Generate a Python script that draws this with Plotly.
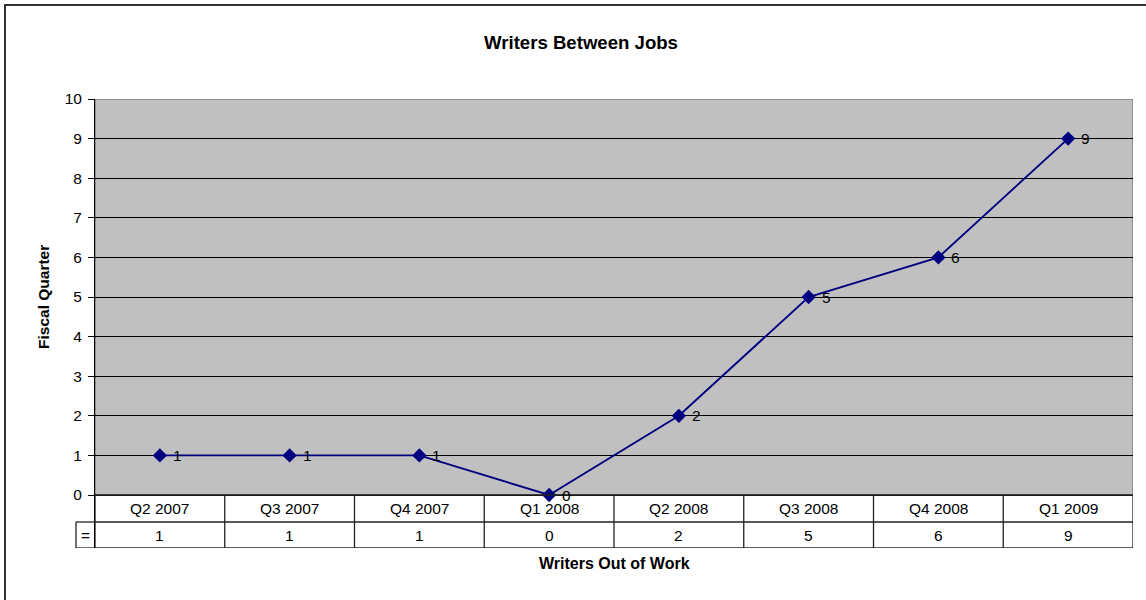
import plotly.graph_objects as go

# ---- data ----
quarters = ["Q2 2007", "Q3 2007", "Q4 2007", "Q1 2008", "Q2 2008", "Q3 2008", "Q4 2008", "Q1 2009"]
writers_out = [1, 1, 1, 0, 2, 5, 6, 9]
y_ticks = list(range(0, 11))
legend_key = "="

# ---- geometry / style ----
W, H = 1146, 600
ML, MR, MT, MB = 95, 13, 99, 52
plot_w = W - ML - MR
plot_h = H - MT - MB
Y_MAX = 10
px_per_unit = plot_h / (Y_MAX + 53 / 39.6)
row1 = 27 / px_per_unit        # category row height (data units)
row2 = 26 / px_per_unit        # value row height
Y_MIN = -(row1 + row2)
n = len(quarters)
x_lo, x_hi = -0.5, n - 0.5
key_w = 19 / plot_w            # legend key column width (paper units)

FONT = "Arial, 'Liberation Sans', sans-serif"
FS = 15.5
NAVY = "#000080"
GRAY = "#C0C0C0"
BORDER = "#222222"

def px_to_paper_x(px):
    return (px - ML) / plot_w

def px_to_paper_y(py):
    return (H - MB - py) / plot_h

fig = go.Figure()

fig.add_trace(go.Scatter(
    x=list(range(n)), y=writers_out,
    mode="lines+markers",
    line=dict(color=NAVY, width=1.9),
    marker=dict(symbol="diamond", size=11, color=NAVY),
    cliponaxis=False,
    hoverinfo="skip",
    showlegend=False,
))

shapes = []
# gray plot area
shapes.append(dict(type="rect", xref="x", yref="y", x0=x_lo, x1=x_hi, y0=0, y1=Y_MAX,
                   fillcolor=GRAY, line=dict(color="#808080", width=1.5), layer="below"))
# table horizontal lines
for yv in [0, -row1, Y_MIN]:
    shapes.append(dict(type="line", xref="x", yref="y", x0=x_lo, x1=x_hi, y0=yv, y1=yv,
                       line=dict(color=BORDER, width=1.3), layer="above"))
# table vertical lines
for i in range(n + 1):
    xv = x_lo + i
    shapes.append(dict(type="line", xref="x", yref="y", x0=xv, x1=xv, y0=0, y1=Y_MIN,
                       line=dict(color=BORDER, width=1.3), layer="above"))
# legend key cell (left of table)
for yv in [-row1, Y_MIN]:
    shapes.append(dict(type="line", xref="paper", yref="y", x0=-key_w, x1=0, y0=yv, y1=yv,
                       line=dict(color=BORDER, width=1.3)))
shapes.append(dict(type="line", xref="paper", yref="y", x0=-key_w, x1=-key_w, y0=-row1, y1=Y_MIN,
                   line=dict(color=BORDER, width=1.3)))
# outer chart border
shapes.append(dict(type="rect", xref="paper", yref="paper",
                   x0=px_to_paper_x(5), x1=px_to_paper_x(1160),
                   y0=px_to_paper_y(610), y1=px_to_paper_y(5),
                   line=dict(color="#333333", width=2), fillcolor="rgba(0,0,0,0)"))

annotations = []
# data labels
for i, v in enumerate(writers_out):
    annotations.append(dict(x=i, y=v, xref="x", yref="y", text=str(v), showarrow=False,
                            xanchor="left", yanchor="middle", xshift=11,
                            font=dict(family=FONT, size=FS, color="#000")))
# data table cells
for i, (q, v) in enumerate(zip(quarters, writers_out)):
    annotations.append(dict(x=i, y=-row1 / 2, xref="x", yref="y", text=q, showarrow=False,
                            xanchor="center", yanchor="middle",
                            font=dict(family=FONT, size=FS, color="#000")))
    annotations.append(dict(x=i, y=-row1 - row2 / 2, xref="x", yref="y", text=str(v), showarrow=False,
                            xanchor="center", yanchor="middle",
                            font=dict(family=FONT, size=FS, color="#000")))
annotations.append(dict(x=-key_w / 2, y=-row1 - row2 / 2, xref="paper", yref="y", text=legend_key,
                        showarrow=False, xanchor="center", yanchor="middle",
                        font=dict(family=FONT, size=FS, color="#000")))
# axis titles
annotations.append(dict(x=px_to_paper_x(43), y=Y_MAX / 2, xref="paper", yref="y",
                        text="<b>Fiscal Quarter</b>", textangle=-90, showarrow=False,
                        xanchor="center", yanchor="middle",
                        font=dict(family=FONT, size=FS, color="#000")))
annotations.append(dict(x=0.5, y=px_to_paper_y(563), xref="paper", yref="paper",
                        text="<b>Writers Out of Work</b>", showarrow=False,
                        xanchor="center", yanchor="middle",
                        font=dict(family=FONT, size=16, color="#000")))

fig.update_layout(
    width=W, height=H,
    margin=dict(l=ML, r=MR, t=MT, b=MB, pad=0),
    paper_bgcolor="white", plot_bgcolor="white",
    title=dict(text="<b>Writers Between Jobs</b>", x=581 / W, xref="container",
               y=1 - 42 / H, yref="container", xanchor="center", yanchor="middle",
               font=dict(family=FONT, size=18.6, color="#000")),
    xaxis=dict(range=[x_lo, x_hi], showticklabels=False, ticks="", showgrid=False,
               zeroline=False, showline=False, fixedrange=True),
    yaxis=dict(range=[Y_MIN, Y_MAX], tickvals=y_ticks, ticktext=[str(t) for t in y_ticks],
               ticks="outside", ticklen=6, tickcolor="#000", tickwidth=1,
               showgrid=True, gridcolor="#000", gridwidth=1, zeroline=False,
               showline=True, linecolor="#000", linewidth=1,
               tickfont=dict(family=FONT, size=FS, color="#000"), ticklabelstandoff=3,
               fixedrange=True),
    shapes=shapes, annotations=annotations,
    showlegend=False,
)

fig.write_html("out.html",
               config={"displayModeBar": False},
               post_script="document.body.style.margin='0';document.body.style.overflow='hidden';")
